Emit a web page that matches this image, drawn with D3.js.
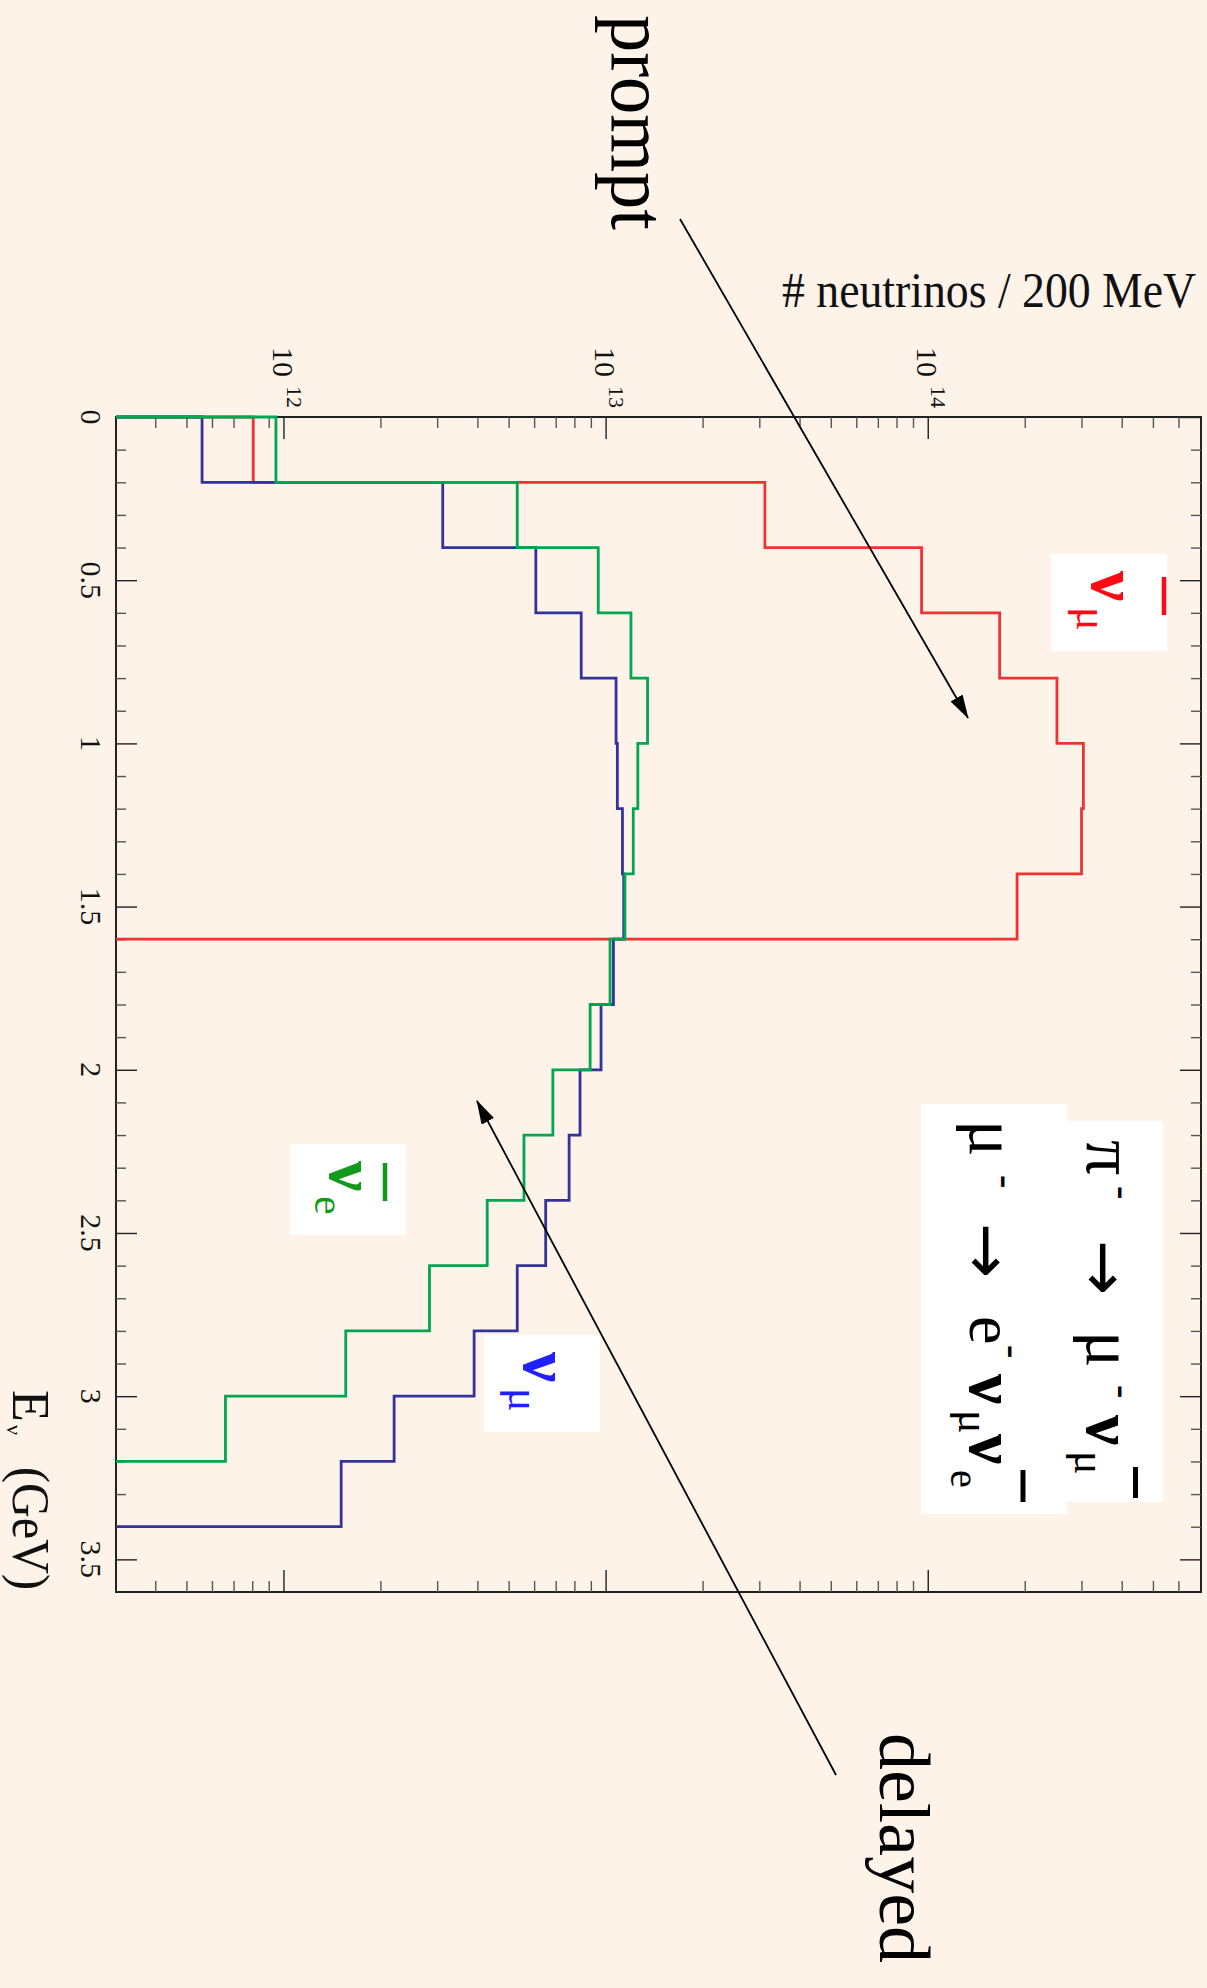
<!DOCTYPE html>
<html>
<head>
<meta charset="utf-8">
<script src="https://cdn.jsdelivr.net/npm/d3@7"></script>
<style>
  html, body { margin: 0; padding: 0; background: #fdf3e8; }
  svg { display: block; }
  text { font-family: "Liberation Serif", "DejaVu Serif", serif; }
  .arrow { font-family: "DejaVu Sans", sans-serif; }
</style>
</head>
<body>
<svg id="chart" width="1207" height="1988"></svg>
<script>
// Lower edges of the 200 MeV energy bins (GeV); last bin ends at 3.6 GeV
const binLow = [0, 0.2, 0.4, 0.6, 0.8, 1.0, 1.2, 1.4, 1.6, 1.8, 2.0, 2.2, 2.4, 2.6, 2.8, 3.0, 3.2, 3.4];
const binWidth = 0.2;

// Neutrinos per 200 MeV bin (0 = empty bin)
const nuMuBar = [8.0e11, 3.1e13, 9.5e13, 1.66e14, 2.5e14, 3.02e14, 2.98e14, 1.88e14,
                 0, 0, 0, 0, 0, 0, 0, 0, 0, 0];
const nuMu    = [5.55e11, 3.10e12, 6.03e12, 8.34e12, 1.07e13, 1.08e13, 1.12e13, 1.13e13,
                 1.05e13, 9.61e12, 8.27e12, 7.65e12, 6.47e12, 5.28e12, 3.88e12, 2.19e12, 1.50e12, 0];
const nuEBar  = [9.41e11, 5.28e12, 9.42e12, 1.19e13, 1.34e13, 1.25e13, 1.21e13, 1.14e13,
                 1.025e13, 8.89e12, 6.81e12, 5.54e12, 4.26e12, 2.82e12, 1.55e12, 6.56e11, 0, 0];

// Axis ranges and labelled ticks
const energyRange = [0, 3.6];
const countRange = [3e11, 7e14];
const energyTicks = [0, 0.5, 1, 1.5, 2, 2.5, 3, 3.5];
const decadeTicks = [1e12, 1e13, 1e14];
const decadeExponents = ["12", "13", "14"];

const svg = d3.select("#chart");
const W = 1175, H = 1085;        // plot size in the unrotated frame
const X0 = 1201, Y0 = 417;       // page position of the plot's origin corner

// The whole plot is drawn upright and then turned a quarter turn clockwise
const g = svg.append("g").attr("transform", `translate(${X0},${Y0}) rotate(90)`);

const x = d3.scaleLinear().domain(energyRange).range([0, W]);
const y = d3.scaleLog().domain(countRange).range([H, 0]);

// Frame
g.append("rect").attr("width", W).attr("height", H)
  .attr("fill", "none").attr("stroke", "#222").attr("stroke-width", 2);

// ---- ticks (all pointing into the frame) ----
const eMinor = d3.range(1, 36).map(i => i / 10).filter(v => Math.abs(v * 2 - Math.round(v * 2)) > 1e-6);
const logMinor = y.ticks().filter(v => {
  const m = v / Math.pow(10, Math.floor(Math.log10(v) + 1e-9));
  return Math.abs(m - 1) > 1e-6;
}).filter(v => v > countRange[0] * 1.001 && v < countRange[1] * 0.999);

function tickAxis(axisFn, scale, values, size, transform, color) {
  const a = g.append("g").attr("transform", transform)
    .call(axisFn(scale).tickValues(values).tickSize(-size).tickSizeOuter(0).tickFormat(""));
  a.select(".domain").remove();
  a.selectAll(".tick line").attr("stroke", color).attr("stroke-width", 1.4);
  a.selectAll(".tick text").remove();
}
// energy axis: both long edges
tickAxis(d3.axisBottom, x, energyTicks, 21, `translate(0,${H})`, "#222");
tickAxis(d3.axisBottom, x, eMinor, 10, `translate(0,${H})`, "#555");
tickAxis(d3.axisTop, x, energyTicks, 21, "translate(0,0)", "#222");
tickAxis(d3.axisTop, x, eMinor, 10, "translate(0,0)", "#555");
// count axis: both short edges
tickAxis(d3.axisLeft, y, decadeTicks, 22, "translate(0,0)", "#222");
tickAxis(d3.axisLeft, y, logMinor, 11, "translate(0,0)", "#555");
tickAxis(d3.axisRight, y, decadeTicks, 22, `translate(${W},0)`, "#222");
tickAxis(d3.axisRight, y, logMinor, 11, `translate(${W},0)`, "#555");

// Energy tick labels
g.append("g").selectAll("text").data(energyTicks).join("text")
  .attr("x", d => x(d)).attr("y", H + 35)
  .attr("text-anchor", "middle").attr("font-size", 30).attr("fill", "#111")
  .text(d => String(d));

// Decade labels 10^n
const dl = g.append("g").selectAll("text").data(decadeTicks).join("text")
  .attr("x", -9).attr("y", d => y(d) + 11.5)
  .attr("text-anchor", "end").attr("font-size", 30).attr("fill", "#111");
dl.append("tspan").text("10");
dl.append("tspan").attr("dx", 9).attr("dy", -13.8).attr("font-size", 22)
  .text((d, i) => decadeExponents[i]);

// Energy axis title
g.append("text").attr("x", 973).attr("y", 1188).attr("font-size", 52).attr("fill", "#111").text("E");
g.append("text").attr("x", 1008).attr("y", 1194).attr("font-size", 22).attr("fill", "#111").text("ν");
g.append("text").attr("x", 1050).attr("y", 1188).attr("font-size", 52).attr("fill", "#111")
  .attr("textLength", 123).attr("lengthAdjust", "spacingAndGlyphs").text("(GeV)");

// ---- histograms ----
function stepPoints(values) {
  let last = -1;
  values.forEach((v, i) => { if (v > 0) last = i; });
  const floor = countRange[0];
  const pts = [[binLow[0], floor]];
  for (let i = 0; i <= last; i++) {
    const v = Math.max(values[i], floor);
    pts.push([binLow[i], v], [binLow[i] + binWidth, v]);
  }
  pts.push([binLow[last] + binWidth, floor]);
  return pts;
}
const line = d3.line().x(d => x(d[0])).y(d => y(d[1]));
const series = [
  { values: nuMuBar, color: "#ee3333" },
  { values: nuMu,    color: "#333399" },
  { values: nuEBar,  color: "#00a651" }
];
g.append("g").selectAll("path").data(series).join("path")
  .attr("d", d => line(stepPoints(d.values)))
  .attr("fill", "none").attr("stroke", d => d.color)
  .attr("stroke-width", 2.8).attr("stroke-linejoin", "miter");

// ---- page-level annotations ----
svg.append("text").attr("transform", "translate(782,307) scale(0.915,1)")
  .attr("font-size", 50).attr("fill", "#111")
  .text("# neutrinos / 200 MeV");

function rotText(parent, px, py, str, size, color, weight, cls, len) {
  const t = parent.append("text")
    .attr("transform", `translate(${px},${py}) rotate(90)`)
    .attr("font-size", size).attr("fill", color || "#000")
    .attr("font-weight", weight || "normal")
    .text(str);
  if (cls) t.attr("class", cls);
  if (len) t.attr("textLength", len).attr("lengthAdjust", "spacingAndGlyphs");
  return t;
}

rotText(svg, 612, 15, "prompt", 78, "#000", "normal", null, 215);
rotText(svg, 880, 1733, "delayed", 72, "#000", "normal", null, 230);

const defs = svg.append("defs");
defs.append("marker").attr("id", "head")
  .attr("viewBox", "0 0 24 14").attr("refX", 23).attr("refY", 7)
  .attr("markerWidth", 24).attr("markerHeight", 14)
  .attr("markerUnits", "userSpaceOnUse").attr("orient", "auto")
  .append("path").attr("d", "M0,0 L24,7 L0,14 Z").attr("fill", "#000");

svg.append("line").attr("x1", 680).attr("y1", 219).attr("x2", 968).attr("y2", 718)
  .attr("stroke", "#000").attr("stroke-width", 1.8).attr("marker-end", "url(#head)");
svg.append("line").attr("x1", 836).attr("y1", 1775).attr("x2", 477).attr("y2", 1101)
  .attr("stroke", "#000").attr("stroke-width", 1.8).attr("marker-end", "url(#head)");

// Series labels in white boxes
function overline(px, py, len, color, w) {
  svg.append("line").attr("x1", px).attr("y1", py).attr("x2", px).attr("y2", py + len)
    .attr("stroke", color).attr("stroke-width", w || 4.5);
}

// anti-muon neutrino
svg.append("rect").attr("x", 1051).attr("y", 554).attr("width", 116).attr("height", 97).attr("fill", "#fff");
rotText(svg, 1092, 571, "ν", 68, "#ff0a14", "bold");
rotText(svg, 1077, 607, "μ", 44, "#ff0a14");
overline(1164, 577, 38, "#ff0a14");

// anti-electron neutrino
svg.append("rect").attr("x", 290).attr("y", 1144).attr("width", 116).attr("height", 91).attr("fill", "#fff");
rotText(svg, 330, 1161, "ν", 68, "#139a1b", "bold");
rotText(svg, 315, 1196, "e", 42, "#139a1b");
overline(385, 1163, 38, "#139a1b");

// muon neutrino
svg.append("rect").attr("x", 484).attr("y", 1335).attr("width", 116).attr("height", 97).attr("fill", "#fff");
rotText(svg, 524, 1352, "ν", 68, "#1f1fff", "bold");
rotText(svg, 509, 1388, "μ", 44, "#1f1fff");

// Decay chain box
svg.append("rect").attr("x", 1066).attr("y", 1121).attr("width", 97).attr("height", 381).attr("fill", "#fff");
svg.append("rect").attr("x", 921).attr("y", 1104).attr("width", 146).attr("height", 410).attr("fill", "#fff");

// π⁻ → μ⁻ ν̄μ
rotText(svg, 1087, 1140, "π", 70, "#000");
rotText(svg, 1110, 1186, "-", 40, "#000", "bold");
rotText(svg, 1082, 1240, "→", 66, "#000", "normal", "arrow");
rotText(svg, 1087, 1331, "μ", 68, "#000");
rotText(svg, 1110, 1385, "-", 40, "#000", "bold");
rotText(svg, 1087, 1415, "ν", 68, "#000", "bold");
rotText(svg, 1075, 1451, "μ", 44, "#000");
overline(1135.5, 1467, 31, "#000", 5);

// μ⁻ → e⁻ νμ ν̄e
rotText(svg, 970, 1120, "μ", 68, "#000");
rotText(svg, 993, 1175, "-", 40, "#000", "bold");
rotText(svg, 965, 1223, "→", 66, "#000", "normal", "arrow");
rotText(svg, 970, 1316, "e", 64, "#000");
rotText(svg, 1000, 1345, "-", 40, "#000", "bold");
rotText(svg, 970, 1374, "ν", 68, "#000", "bold");
rotText(svg, 959, 1410, "μ", 44, "#000");
rotText(svg, 970, 1434, "ν", 68, "#000", "bold");
rotText(svg, 951, 1470, "e", 40, "#000");
overline(1023, 1470, 32, "#000", 5);
</script>
</body>
</html>
